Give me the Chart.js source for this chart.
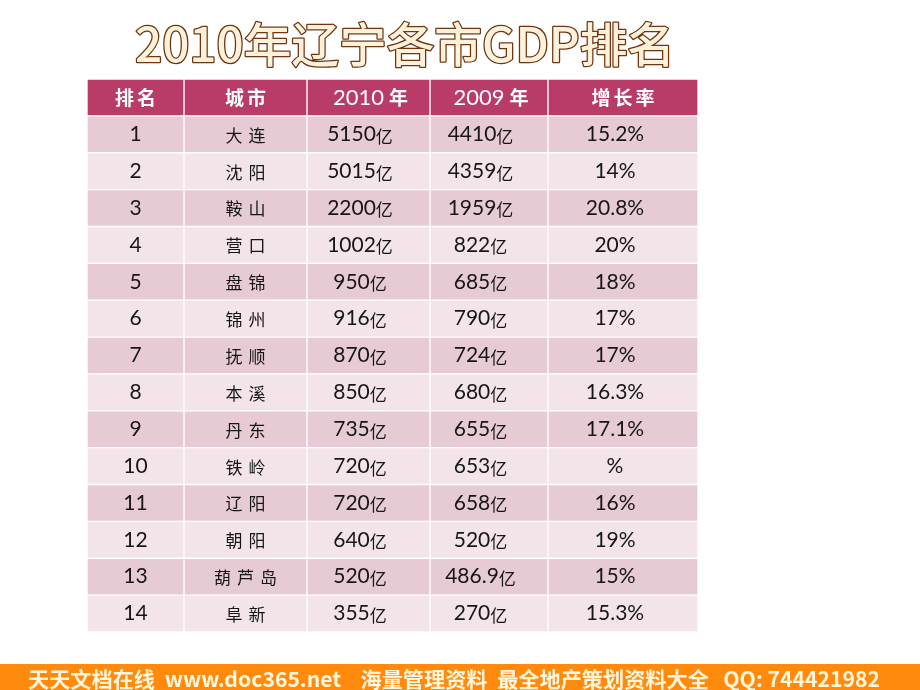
<!DOCTYPE html>
<html>
<head>
<meta charset="utf-8">
<script src="https://cdn.jsdelivr.net/npm/chart.js@4.4.1/dist/chart.umd.min.js"></script>
<style>
html,body{margin:0;padding:0;background:#ffffff;}
#wrap{width:920px;height:690px;position:relative;}
</style>
</head>
<body>
<div id="wrap"><canvas id="c" width="920" height="690"></canvas></div>
<script>
// ---- data ----
const titleText = '2010年辽宁各市GDP排名';
const headers = ['排名', '城市', '2010年', '2009年', '增长率'];
const ranks = [1, 2, 3, 4, 5, 6, 7, 8, 9, 10, 11, 12, 13, 14];
const cities = ['大连', '沈阳', '鞍山', '营口', '盘锦', '锦州', '抚顺', '本溪', '丹东', '铁岭', '辽阳', '朝阳', '葫芦岛', '阜新'];
const gdp2010 = [5150, 5015, 2200, 1002, 950, 916, 870, 850, 735, 720, 720, 640, 520, 355];
const gdp2009 = [4410, 4359, 1959, 822, 685, 790, 724, 680, 655, 653, 658, 520, 486.9, 270];
const growth = [15.2, 14, 20.8, 20, 18, 17, 17, 16.3, 17.1, null, 16, 19, 15, 15.3];
const footerText = '天天文档在线  www.doc365.net    海量管理资料  最全地产策划资料大全   QQ: 744421982';

// ---- layout (not data) ----
const colWidths = [97, 123, 123, 118, 150];
const colEdges = [0];
colWidths.forEach(w => colEdges.push(colEdges[colEdges.length - 1] + w));
const totalW = colEdges[colEdges.length - 1];

const rowLabels = ['header'].concat(ranks.map(String));
const cellText = (col, row) => {
  if (row === 0) return headers[col];
  const i = row - 1;
  if (col === 0) return String(ranks[i]);
  if (col === 1) return cities[i];
  if (col === 2) return gdp2010[i] + '亿';
  if (col === 3) return gdp2009[i] + '亿';
  return (growth[i] === null ? '' : growth[i]) + '%';
};

const HEADER_BG = '#B93C68';
const ODD_BG = '#E6CBD4';
const EVEN_BG = '#F2E4E9';

const datasets = colWidths.map((w, c) => ({
  label: headers[c],
  data: rowLabels.map(() => [colEdges[c], colEdges[c + 1]]),
  backgroundColor: ctx => ctx.dataIndex === 0 ? HEADER_BG : (ctx.dataIndex % 2 === 1 ? ODD_BG : EVEN_BG),
  borderColor: '#ffffff',
  borderWidth: 1,
  borderSkipped: false,
  barPercentage: 1,
  categoryPercentage: 1,
  grouped: false
}));

const decorPlugin = {
  id: 'decor',
  beforeDraw(chart) {
    const ctx = chart.ctx;
    ctx.save();
    ctx.fillStyle = '#ffffff';
    ctx.fillRect(0, 0, chart.width, chart.height);
    // footer band
    ctx.fillStyle = '#FF8A0E';
    ctx.fillRect(0, 664, chart.width, 26);
    ctx.font = 'bold 21px "Noto Sans CJK SC", "DejaVu Sans"';
    ctx.textBaseline = 'middle';
    const fw = ctx.measureText(footerText).width;
    ctx.translate(28, 679);
    ctx.scale(852 / fw, 1);
    ctx.fillStyle = '#FFF6DC';
    ctx.fillText(footerText, 0, 0);
    ctx.restore();
    // title
    ctx.save();
    ctx.font = '500 47px "Noto Sans CJK SC", "Open Sans"';
    ctx.textBaseline = 'middle';
    const tw = ctx.measureText(titleText).width;
    const grad = ctx.createLinearGradient(0, 22, 0, 68);
    grad.addColorStop(0, '#FFF1DA');
    grad.addColorStop(0.4, '#FBCB8A');
    grad.addColorStop(1, '#E8852A');
    ctx.translate(135, 44);
    ctx.scale(540 / tw, 1);
    ctx.lineWidth = 2.5;
    ctx.strokeStyle = '#6E3510';
    ctx.lineJoin = 'round';
    ctx.strokeText(titleText, 0, 0);
    ctx.fillStyle = grad;
    ctx.fillText(titleText, 0, 0);
    ctx.restore();
  },
  afterDatasetsDraw(chart) {
    const ctx = chart.ctx;
    ctx.save();
    ctx.textBaseline = 'middle';
    chart.data.datasets.forEach((ds, c) => {
      const meta = chart.getDatasetMeta(c);
      meta.data.forEach((el, r) => {
        const cx = (el.x + el.base) / 2;
        const cy = el.y;
        const txt = cellText(c, r);
        if (r === 0) {
          ctx.fillStyle = '#ffffff';
          if (c === 2 || c === 3) {
            ctx.font = '22px Lato, "Open Sans"';
            ctx.textAlign = 'center';
            ctx.fillText(txt.slice(0, 4), cx - 10, cy);
            ctx.font = 'bold 19px "Noto Sans CJK SC"';
            ctx.fillText(txt.slice(4), cx + 30, cy);
          } else {
            ctx.font = 'bold 19px "Noto Sans CJK SC"';
            drawSpaced(ctx, txt, cx, cy, 19, 3);
          }
        } else {
          ctx.fillStyle = '#161616';
          if (c === 1) {
            ctx.font = '17px "Noto Sans CJK SC"';
            drawSpaced(ctx, txt, cx, cy + 1, 17, 6);
          } else if (c === 2 || c === 3) {
            const num = txt.slice(0, -1);
            ctx.font = '21px Lato, "Open Sans"';
            const nw = ctx.measureText(num).width;
            const yw = 18;
            const start = cx - 8 - (nw + yw) / 2;
            ctx.textAlign = 'left';
            ctx.fillText(num, start, cy);
            ctx.font = '17px "Noto Sans CJK SC"';
            ctx.fillText('亿', start + nw, cy + 2);
          } else {
            ctx.font = '21px Lato, "Open Sans"';
            ctx.textAlign = 'center';
            ctx.fillText(txt, c === 4 ? cx - 8 : cx, cy);
          }
        }
      });
    });
    ctx.restore();
  }
};

function drawSpaced(ctx, txt, cx, cy, charW, gap) {
  const chars = Array.from(txt);
  const w = chars.length * charW + (chars.length - 1) * gap;
  let x = cx - w / 2;
  ctx.textAlign = 'left';
  chars.forEach(ch => { ctx.fillText(ch, x, cy); x += charW + gap; });
}

new Chart(document.getElementById('c'), {
  type: 'bar',
  data: { labels: rowLabels, datasets },
  options: {
    indexAxis: 'y',
    responsive: false,
    animation: false,
    devicePixelRatio: 1,
    layout: { padding: { left: 87, right: 222, top: 79, bottom: 58 } },
    plugins: { legend: { display: false }, tooltip: { enabled: false }, title: { display: false } },
    scales: {
      x: { type: 'linear', min: 0, max: totalW, display: false },
      y: { type: 'category', display: false, offset: true }
    }
  },
  plugins: [decorPlugin]
});
</script>
</body>
</html>
